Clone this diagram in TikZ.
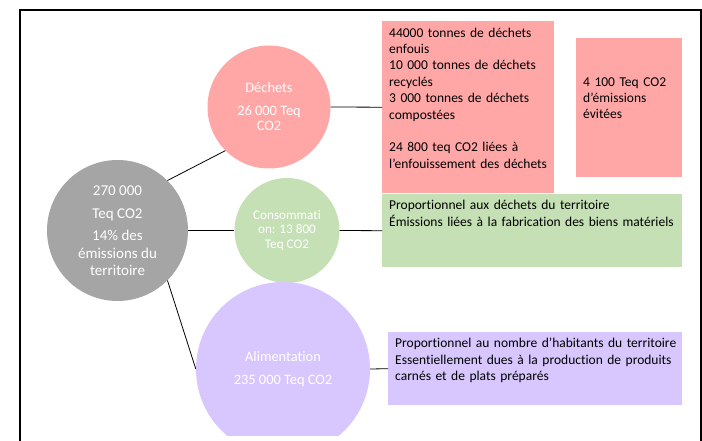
\documentclass[tikz,border=0pt]{standalone}
\usepackage{fontspec}
\setmainfont{Carlito}[Ligatures=NoCommon]
\usepackage{xcolor}
\usepackage{tikz}
\definecolor{BilanTotal}{HTML}{A5A5A5}
\definecolor{BilanDechets}{HTML}{FFA7A7}
\definecolor{BilanConso}{HTML}{C5E0B4}
\definecolor{BilanAlim}{HTML}{D8C7FE}
\tikzset{
  bilan circle/.style={
    circle,
    inner sep=0pt,
    text=white,
    align=center
  },
  bilan box/.style={
    anchor=north west,
    inner xsep=7pt,
    inner ysep=0pt,
    align=left,
    font=\fontsize{13.5}{16.4}\selectfont
  },
  bilan link/.style={line width=0.8pt, black}
}

\begin{document}
\begin{tikzpicture}[x=1pt, y=-1pt]
  \useasboundingbox (0,0) rectangle (702,441);
  \draw[line width=2pt] (19.5,445) -- (19.5,10.5) -- (700.5,10.5) -- (700.5,445);

  \node[bilan circle, fill=BilanTotal, minimum size=141pt,
    font=\fontsize{15}{17.3}\selectfont] (total) at (117.5,230.5)
    {270 000\\[5.4pt]Teq CO2\\[5.4pt]14\% des\\émissions du\\territoire};
  \node[bilan circle, fill=BilanDechets, minimum size=123pt,
    font=\fontsize{14.4}{15.7}\selectfont] (dechets) at (269,107)
    {Déchets\\[6.6pt]26 000 Teq\\CO2};
  \node[bilan circle, fill=BilanConso, minimum size=105pt,
    font=\fontsize{13.2}{14.7}\selectfont] (conso) at (287,230.5)
    {Consommati\\on: 13 800\\Teq CO2};
  \begin{scope}
    \clip (0,0) rectangle (702,435);
    \node[bilan circle, fill=BilanAlim, minimum size=174pt,
      font=\fontsize{14.4}{17}\selectfont] (alim) at (283,369)
      {Alimentation\\[5.7pt]235 000 Teq CO2};
  \end{scope}

  \node[bilan box, fill=BilanDechets, text width=158pt, text height=16pt,
    text depth=156pt] (dechetsbox) at (382,21)
    {\mbox{44000 tonnes de déchets}\\enfouis\\
     \mbox{10 000 tonnes de déchets}\\recyclés\\
     \mbox{3 000 tonnes de déchets}\\compostées\\[16.4pt]
     \mbox{24 800 teq CO2 liées à}\\
     \mbox{l’enfouissement des déchets}};
  \node[bilan box, fill=BilanDechets, text width=92pt, text height=48pt,
    text depth=91pt] (evitees) at (576,38)
    {4 100 Teq CO2\\d’émissions\\évitées};
  \node[bilan box, fill=BilanConso, text width=286pt, text height=15.5pt,
    text depth=57.5pt] (consobox) at (382,194)
    {\mbox{Proportionnel aux déchets du territoire}\\
     \mbox{Émissions liées à la fabrication des biens matériels}};
  \node[bilan box, fill=BilanAlim, text width=280pt, text height=15.5pt,
    text depth=57.5pt] (alimbox) at (388,332)
    {\mbox{Proportionnel au nombre d’habitants du territoire}\\
     \mbox{Essentiellement dues à la production de produits}\\
     \mbox{carnés et de plats préparés}};

  \draw[bilan link] (total.45) -- (dechets.225);
  \draw[bilan link] (total.east) -- (conso.west);
  \draw[bilan link] (total.-45) -- (alim.west);
  \draw[bilan link] (dechets.east) -- (dechetsbox.west);
  \draw[bilan link] (conso.east) -- (consobox.west);
  \draw[bilan link] (alim.east) -- (alimbox.west);
\end{tikzpicture}
\end{document}
